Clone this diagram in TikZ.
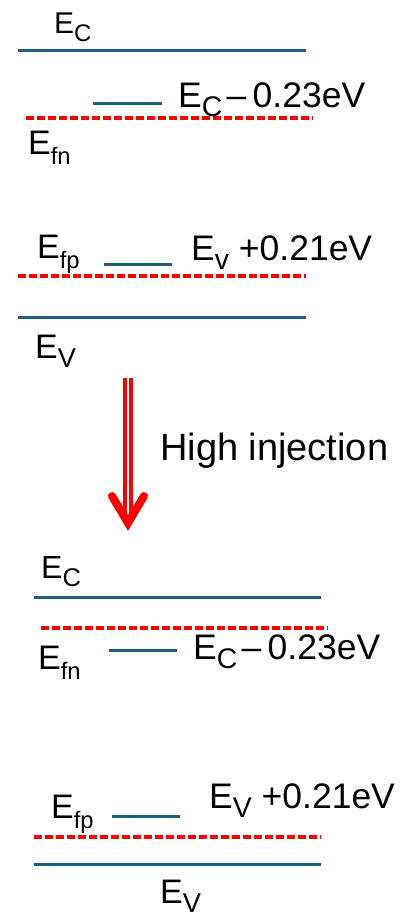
\documentclass[tikz,border=0pt]{standalone}
\usepackage{fontspec}
\usepackage{graphicx}
\setmainfont{Liberation Sans}
\definecolor{bandline}{RGB}{31,94,124}
\definecolor{fermired}{RGB}{255,0,0}
% subscripts of level names
\newcommand{\lsub}[1]{\raisebox{-0.28em}{\scalebox{0.8}{#1}}}
\newcommand{\fsub}[1]{\raisebox{-0.3em}{\scalebox{0.7}{#1}}}

\begin{document}
\begin{tikzpicture}[x=1pt, y=-1pt,
		band/.style={bandline, line width=3pt},
		fermi/.style={fermired, line width=3.2pt, dash pattern=on 7.5pt off 3.5pt},
		lbl/.style={anchor=base west, inner sep=0pt, font=\fontsize{34}{40}\selectfont},
		trapl/.style={lbl, font=\fontsize{35.5}{42}\selectfont}]
	\useasboundingbox (0,0) rectangle (410,919);
	% before injection: levels
	\draw[band] (18,50) -- (306,50);
	\draw[band] (93,103) -- (162,103);
	\draw[fermi] (26,118) -- (313,118);
	\draw[band] (104,264) -- (172,264);
	\draw[fermi] (18,276) -- (306,276);
	\draw[band] (18,317) -- (306,317);
	% before injection: labels
	\node[lbl, font=\fontsize{30}{36}\selectfont] (ectop) at (54,33) {E\lsub{C}};
	\node[trapl] (trapntop) at (178,107) {E\lsub{C}\hspace{0.12em}–\hspace{0.18em}0.23eV};
	\node[lbl] (efntop) at (28,154) {E\fsub{fn}};
	\node[lbl] (efptop) at (37,258) {E\fsub{fp}};
	\node[trapl] (trapptop) at (191,260) {E\lsub{v} +0.21eV};
	\node[lbl] (evtop) at (35,358) {E\lsub{V}};
	% injection arrow
	\coordinate (arrtop) at (128,378);
	\coordinate (arrend) at (128,516);
	\coordinate (arrtip) at (128,523);
	\draw[fermired, line width=3.3pt, double=white, double distance=2.6pt] (arrtop) -- (arrend);
	\draw[fermired, line width=8pt, line cap=round, line join=miter]
		([xshift=-16pt, yshift=27pt]arrtip) -- (arrtip) -- ([xshift=16pt, yshift=27pt]arrtip);
	\node[lbl, font=\fontsize{38}{44}\selectfont] (inj) at (160,460) {High injection};
	% after injection: levels
	\draw[band] (34,597) -- (321,597);
	\draw[fermi] (41,628) -- (328,628);
	\draw[band] (109,650) -- (177,650);
	\draw[band] (112,816) -- (180,816);
	\draw[fermi] (34,837) -- (321,837);
	\draw[band] (34,864) -- (321,864);
	% after injection: labels
	\node[lbl, font=\fontsize{32}{38}\selectfont] (ecbot) at (41,578) {E\lsub{C}};
	\node[lbl] (efnbot) at (38,669) {E\fsub{fn}};
	\node[trapl] (trapnbot) at (193,659) {E\lsub{C}\hspace{0.12em}–\hspace{0.18em}0.23eV};
	\node[lbl] (efpbot) at (51,818) {E\fsub{fp}};
	\node[trapl] (trappbot) at (209,808) {E\lsub{V} +0.21eV};
	\node[lbl] (evbot) at (160,903) {E\lsub{V}};
\end{tikzpicture}
\end{document}
